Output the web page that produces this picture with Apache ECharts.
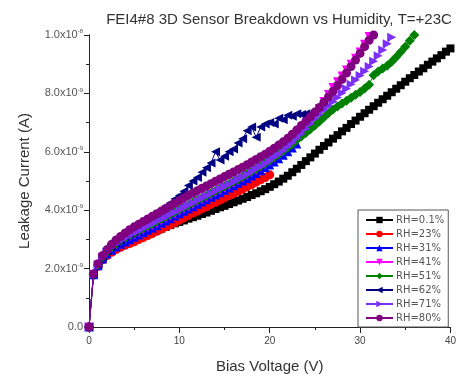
<!DOCTYPE html>
<html>
<head>
<meta charset="utf-8">
<script src="https://cdn.jsdelivr.net/npm/echarts@6/dist/echarts.min.js"></script>
<style>html,body{margin:0;padding:0;background:#fff}#c{width:459px;height:379px}</style>
</head>
<body>
<div id="c"></div>
<script>
// Bias voltage (V), shared by all series (0.5 V steps)
const voltage = [0,0.5,1,1.5,2,2.5,3,3.5,4,4.5,5,5.5,6,6.5,7,7.5,8,8.5,9,9.5,10,10.5,11,11.5,12,12.5,13,13.5,14,14.5,15,15.5,16,16.5,17,17.5,18,18.5,19,19.5,20,20.5,21,21.5,22,22.5,23,23.5,24,24.5,25,25.5,26,26.5,27,27.5,28,28.5,29,29.5,30,30.5,31,31.5,32,32.5,33,33.5,34,34.5,35,35.5,36,36.5,37,37.5,38,38.5,39,39.5,40];

// Leakage current in units of 1e-9 A (nA), index matches voltage
const rh01 = [0,1.8,2.1,2.33,2.5,2.62,2.72,2.8,2.88,2.94,3.0,3.06,3.12,3.19,3.25,3.31,3.37,3.43,3.49,3.55,3.6,3.65,3.71,3.76,3.81,3.87,3.92,3.98,4.04,4.1,4.15,4.21,4.27,4.33,4.39,4.45,4.52,4.58,4.65,4.72,4.8,4.89,4.98,5.08,5.18,5.3,5.42,5.55,5.68,5.81,5.94,6.07,6.2,6.32,6.45,6.57,6.7,6.82,6.95,7.07,7.2,7.32,7.44,7.56,7.68,7.8,7.92,8.04,8.16,8.28,8.4,8.52,8.63,8.75,8.86,8.98,9.09,9.2,9.31,9.43,9.54];
const rh23 = [0,1.78,2.08,2.3,2.45,2.56,2.65,2.73,2.8,2.86,2.92,2.99,3.06,3.13,3.2,3.28,3.35,3.43,3.5,3.58,3.66,3.74,3.82,3.9,3.97,4.05,4.12,4.2,4.27,4.35,4.42,4.5,4.57,4.65,4.72,4.8,4.88,4.96,5.04,5.12,5.21];
const rh31 = [0,1.79,2.1,2.33,2.5,2.63,2.74,2.83,2.91,2.99,3.07,3.15,3.23,3.31,3.39,3.47,3.55,3.63,3.71,3.8,3.88,3.96,4.04,4.12,4.2,4.28,4.36,4.44,4.52,4.6,4.68,4.76,4.84,4.92,5.0,5.08,5.17,5.26,5.35,5.45,5.55,5.65,5.76,5.88,6.0,6.13,6.27];
const rh41 = [0,1.8,2.12,2.37,2.55,2.69,2.8,2.9,2.99,3.07,3.15,3.23,3.31,3.39,3.47,3.55,3.63,3.71,3.79,3.87,3.95,4.03,4.11,4.19,4.27,4.35,4.43,4.51,4.59,4.67,4.75,4.83,4.91,5.0,5.09,5.18,5.27,5.36,5.46,5.56,5.66,5.77,5.88,6.0,6.13,6.27,6.42,6.6,6.8,7.02,7.25,7.48,7.72,7.96,8.2,8.4,8.6,8.8,9.0,9.2,9.42,9.68,9.95];
const rh51 = [0,1.8,2.13,2.39,2.58,2.73,2.85,2.96,3.05,3.14,3.22,3.3,3.38,3.46,3.54,3.62,3.7,3.78,3.86,3.94,4.02,4.1,4.18,4.26,4.34,4.42,4.5,4.58,4.66,4.74,4.82,4.9,4.98,5.06,5.15,5.24,5.33,5.42,5.51,5.61,5.71,5.81,5.92,6.03,6.15,6.27,6.4,6.52,6.64,6.77,6.9,7.04,7.18,7.32,7.45,7.55,7.65,7.75,7.85,7.95,8.05,8.17,8.3,8.62,8.75,8.85,8.95,9.08,9.25,9.42,9.6,9.8,10.0];
const rh62 = [0,1.82,2.15,2.4,2.6,2.75,2.88,3.0,3.1,3.2,3.3,3.42,3.55,3.68,3.8,3.92,4.03,4.14,4.25,4.38,4.5,4.65,4.85,5.0,5.12,5.3,5.45,5.62,6.0,5.72,5.85,6.0,6.1,6.3,6.45,6.72,6.85,6.5,6.85,6.95,7.0,6.95,7.15,7.1,7.25,7.22,7.3,7.28,7.3,7.28];
const rh71 = [0,1.8,2.12,2.38,2.57,2.72,2.84,2.95,3.04,3.13,3.21,3.29,3.37,3.45,3.53,3.61,3.69,3.77,3.85,3.93,4.01,4.09,4.17,4.25,4.33,4.41,4.49,4.57,4.65,4.73,4.81,4.89,4.97,5.05,5.14,5.23,5.32,5.41,5.5,5.6,5.7,5.81,5.92,6.04,6.17,6.31,6.46,6.62,6.79,6.96,7.13,7.28,7.43,7.57,7.71,7.86,8.01,8.16,8.31,8.46,8.61,8.76,8.92,9.1,9.29,9.49,9.7,9.92];
const rh80 = [0,1.82,2.17,2.45,2.65,2.83,2.98,3.1,3.22,3.33,3.43,3.52,3.61,3.7,3.79,3.88,3.97,4.06,4.15,4.24,4.33,4.42,4.51,4.59,4.67,4.75,4.83,4.91,4.99,5.07,5.15,5.23,5.31,5.39,5.47,5.56,5.65,5.74,5.83,5.92,6.02,6.12,6.23,6.34,6.46,6.6,6.75,6.9,7.05,7.2,7.36,7.52,7.7,7.88,8.07,8.27,8.48,8.7,8.92,9.14,9.37,9.6,9.82,10.0];

const seriesNames = ['RH=0.1%','RH=23%','RH=31%','RH=41%','RH=51%','RH=62%','RH=71%','RH=80%'];
const seriesData = [rh01, rh23, rh31, rh41, rh51, rh62, rh71, rh80];
const colors = ['#000000','#ff0000','#0000ff','#ff00ff','#008000','#000080','#7b2ff7','#800080'];
const symbols = ['rect','circle','triangle','triangle','diamond','triangle','triangle','circle'];
const rotations = [0,0,0,180,0,90,-90,0];
const xTicks = [0,10,20,30,40];
const yTickLabels = {0:'0.0',2:'2.0x10{s|-9}',4:'4.0x10{s|-9}',6:'6.0x10{s|-9}',8:'8.0x10{s|-9}',10:'1.0x10{s|-8}'};

const chart = echarts.init(document.getElementById('c'), null, {renderer:'canvas'});
const font = 'Liberation Sans, Arial, sans-serif';

const series = seriesData.map((arr, i) => ({
  name: seriesNames[i],
  type: 'line',
  data: arr.map((v, k) => [voltage[k], v]),
  symbol: symbols[i],
  symbolRotate: rotations[i],
  symbolSize: symbols[i] === 'rect' ? 8 : (symbols[i] === 'diamond' ? 10 : 9),
  showSymbol: true,
  lineStyle: {color: colors[i], width: 1},
  itemStyle: {color: colors[i]},
  clip: true,
  animation: false,
  z: 2 + i
}));

chart.setOption({
  animation: false,
  backgroundColor: '#ffffff',
  textStyle: {fontFamily: font},
  title: {
    text: 'FEI4#8 3D Sensor Breakdown vs Humidity, T=+23C',
    left: 274, top: 7, textAlign: 'center',
    textStyle: {fontSize: 15, fontWeight: 'normal', color: '#333', fontFamily: font}
  },
  grid: {left: 89, right: 7, top: 35, bottom: 52, show: false},
  legend: {
    orient: 'vertical',
    left: 358, top: 210,
    itemWidth: 27, itemHeight: 8, itemGap: 2,
    padding: [4, 4, 3, 7],
    borderColor: '#555', borderWidth: 1,
    backgroundColor: '#fff',
    textStyle: {fontSize: 10, lineHeight: 12, color: '#555', fontFamily: 'DejaVu Sans, sans-serif', padding: [0,0,0,-2]},
    data: seriesNames
  },
  xAxis: [{
    type: 'value', min: 0, max: 40, interval: 10,
    name: 'Bias Voltage (V)', nameLocation: 'middle', nameGap: 32,
    nameTextStyle: {fontSize: 15, color: '#333', fontFamily: font},
    axisLine: {lineStyle: {color: '#222', width: 1}},
    axisTick: {show: true, inside: false, length: 6, lineStyle: {color: '#222'}},
    minorTick: {show: true, splitNumber: 2, length: 3, lineStyle: {color: '#222'}},
    axisLabel: {fontSize: 10, color: '#444', margin: 9, fontFamily: font,
      formatter: v => xTicks.includes(v) ? String(v) : ''},
    splitLine: {show: false}
  }, {
    type: 'value', min: 0, max: 40, interval: 10, position: 'top',
    axisLine: {show: true, lineStyle: {color: '#222', width: 1}},
    axisTick: {show: true, inside: true, length: 4, lineStyle: {color: '#222'}},
    minorTick: {show: true, splitNumber: 2, length: 2, lineStyle: {color: '#222'}},
    axisLabel: {show: false}, splitLine: {show: false}
  }],
  yAxis: [{
    type: 'value', min: 0, max: 10, interval: 2,
    name: 'Leakage Current (A)', nameLocation: 'middle', nameGap: 57,
    nameTextStyle: {fontSize: 15, color: '#333', fontFamily: font},
    axisLine: {lineStyle: {color: '#222', width: 1}},
    axisTick: {show: true, inside: false, length: 5, lineStyle: {color: '#222'}},
    minorTick: {show: true, splitNumber: 2, length: 3, lineStyle: {color: '#222'}},
    axisLabel: {fontSize: 11, color: '#555', margin: 6, fontFamily: font,
      formatter: v => yTickLabels[v] || '',
      rich: {s: {fontSize: 6, color: '#555', padding: [0,0,7,0], fontFamily: font}}},
    splitLine: {show: false}
  }, {
    type: 'value', min: 0, max: 10, interval: 2, position: 'right',
    axisLine: {show: true, lineStyle: {color: '#222', width: 1}},
    axisTick: {show: true, inside: true, length: 4, lineStyle: {color: '#222'}},
    minorTick: {show: true, splitNumber: 2, length: 2, lineStyle: {color: '#222'}},
    axisLabel: {show: false}, splitLine: {show: false}
  }],
  series: series
});
</script>
</body>
</html>
